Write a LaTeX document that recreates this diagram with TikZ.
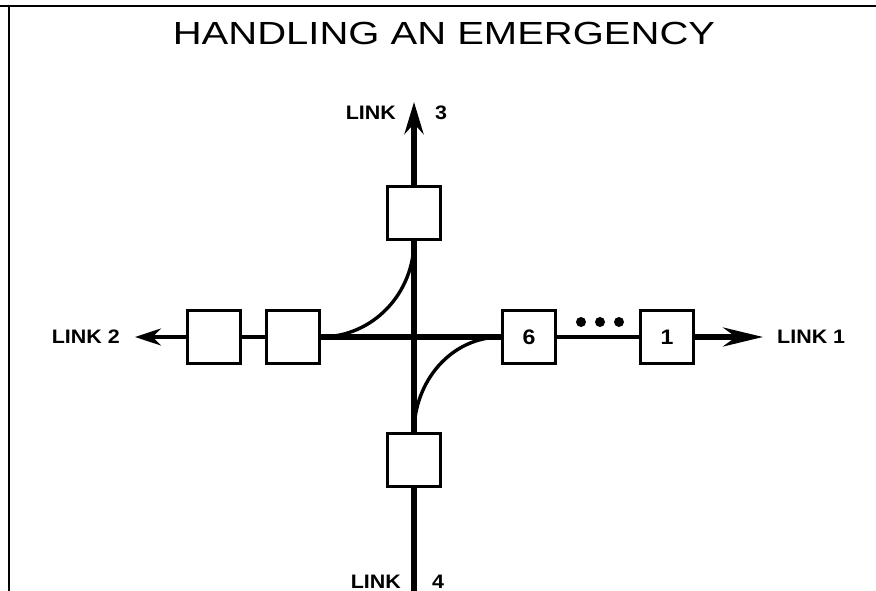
\documentclass[tikz,border=0pt]{standalone}
\usepackage{fontspec}
\setmainfont{Liberation Sans}
\usetikzlibrary{arrows.meta,positioning}
\newcommand\linkfont{\fontsize{19.5}{21}\selectfont\bfseries}
\newcommand\widetext[2]{\scalebox{#1}[1]{#2}}

\begin{document}
\begin{tikzpicture}[x=1pt, y=1pt,
  cell/.style={draw, line width=2.6pt, fill=white, minimum size=53pt, inner sep=0pt,
    font=\fontsize{21}{23}\selectfont\bfseries},
  trunk/.style={line width=5.2pt},
  switchcurve/.style={line width=3.4pt},
  lbl/.style={inner sep=0pt, font=\linkfont}]
  \useasboundingbox (0,0) rectangle (876,591);
  \draw[line width=1.8pt] (9,0) -- (9,585) (0,585) -- (876,585);
  \node[inner sep=0pt, anchor=base, font=\fontsize{32}{34}\selectfont] (title) at (444,546)
    {\widetext{1.25}{HANDLING AN EMERGENCY}};

  \node[cell] (up) at (414,378) {};
  \node[cell] (down) at (414,131) {};
  \node[cell] (west1) at (214,254) {};
  \node[cell] (west2) at (293,254) {};
  \node[cell] (east6) at (529,254) {\widetext{1.1}{6}};
  \node[cell] (east1) at (667,254) {\widetext{1.1}{1}};

  \coordinate (tip1) at (763,254);
  \coordinate (tip2) at (135,254);
  \coordinate (tip3) at (414,489);
  \coordinate (end4) at (414,0);

  \draw[trunk] (west2.east) -- (east6.west);
  \draw[trunk] (up.south) -- (down.north);
  \draw[trunk] (down.south) -- (end4);
  \draw[line width=4.5pt] (east6.east) -- (east1.west);
  \draw[line width=4pt] (west1.east) -- (west2.west);
  \draw[trunk, -{Stealth[length=40pt, width=19pt]}] (east1.east) -- (tip1);
  \draw[line width=3.2pt, -{Stealth[length=26pt, width=17pt]}] (west1.west) -- (tip2);
  \draw[line width=5.5pt, -{Stealth[length=32pt, width=19pt]}] (up.north) -- (tip3);
  \draw[switchcurve] (up.south) to[out=-90, in=0] (west2.east);
  \draw[switchcurve] (down.north) to[out=90, in=180] (east6.west);

  \foreach \x in {581,600,619}
    \fill (\x,269) circle (5pt);

  \node[lbl, right=14pt of tip1] (link1) {\widetext{1.1}{LINK 1}};
  \node[lbl, left=15pt of tip2] (link2) {\widetext{1.1}{LINK 2}};
  \node[lbl, anchor=east] (link3) at (396,478) {\widetext{1.1}{LINK}};
  \node[lbl, anchor=west] (num3) at (435,478) {\widetext{1.1}{3}};
  \node[lbl, anchor=east] (link4) at (401,9.5) {\widetext{1.1}{LINK}};
  \node[lbl, anchor=west] (num4) at (432,9.5) {\widetext{1.1}{4}};
\end{tikzpicture}
\end{document}
